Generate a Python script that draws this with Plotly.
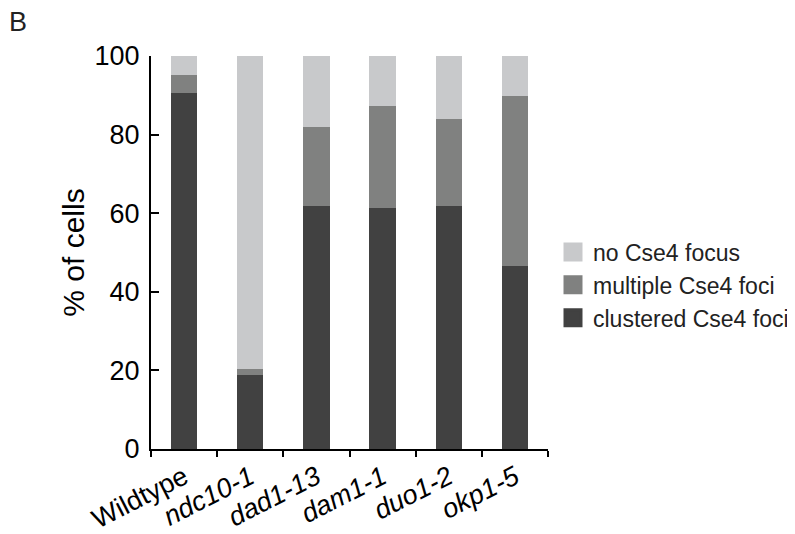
import plotly.graph_objects as go

categories = ["Wildtype", "ndc10-1", "dad1-13", "dam1-1", "duo1-2", "okp1-5"]
tick_labels = ["Wildtype", "<i>ndc10-1</i>", "<i>dad1-13</i>", "<i>dam1-1</i>", "<i>duo1-2</i>", "<i>okp1-5</i>"]
clustered = [90.5, 18.8, 61.8, 61.2, 61.9, 46.6]
multiple = [4.7, 1.5, 20.2, 26.1, 22.0, 43.3]
no_focus = [4.8, 79.7, 18.0, 12.7, 16.1, 10.1]

series = [
    ("clustered Cse4 foci", clustered, "#414141"),
    ("multiple Cse4 foci", multiple, "#808180"),
    ("no Cse4 focus", no_focus, "#c8c9cb"),
]

FONT = "Liberation Sans, Arial, sans-serif"
L, R, T, B = 143, 255, 48, 93
PW, PH = 795 - L - R, 534 - T - B

fig = go.Figure()
for name, vals, col in series:
    fig.add_trace(go.Bar(x=categories, y=vals, name=name, marker=dict(color=col, line=dict(width=0)),
                         width=0.4, showlegend=False))
    fig.add_trace(go.Scatter(x=[None], y=[None], mode="markers", name=name,
                             marker=dict(symbol="square", size=16, color=col, line=dict(color=col, width=3))))

fig.update_layout(
    barmode="stack",
    width=795, height=534,
    margin=dict(l=L, r=R, t=T, b=B, autoexpand=False),
    plot_bgcolor="white", paper_bgcolor="white",
    font=dict(family=FONT, color="black"),
    showlegend=True,
    legend=dict(traceorder="reversed", x=(545 - L) / PW, y=(534 - B - 277) / PH, yanchor="middle",
                xanchor="left", font=dict(size=23, color="#222"), itemwidth=30, bgcolor="rgba(0,0,0,0)"),
    annotations=[dict(text="B", xref="paper", yref="paper", x=(-1 - L) / PW, y=(534 - B - 14) / PH,
                      xanchor="left", yanchor="middle", showarrow=False, font=dict(size=27, color="#222"))],
)
fig.update_xaxes(
    type="category", tickmode="array", tickvals=categories, ticktext=tick_labels,
    tickson="boundaries", ticks="outside", ticklen=6, tickwidth=2, tickcolor="black",
    showline=True, linewidth=2, linecolor="black", tickangle=-27, automargin=False,
    tickfont=dict(size=27, family=FONT), range=[-0.5, 5.5], showgrid=False,
)
fig.update_yaxes(
    range=[0, 100], tickvals=[0, 20, 40, 60, 80, 100], ticks="inside", ticklen=8, tickwidth=2,
    tickcolor="black", showline=True, linewidth=2, linecolor="black", showgrid=False, zeroline=False,
    tickfont=dict(size=27, family=FONT), ticklabelstandoff=4, automargin=False,
    title=dict(text="% of cells", font=dict(size=30, family=FONT), standoff=1),
)
fig.write_html("out.html")
